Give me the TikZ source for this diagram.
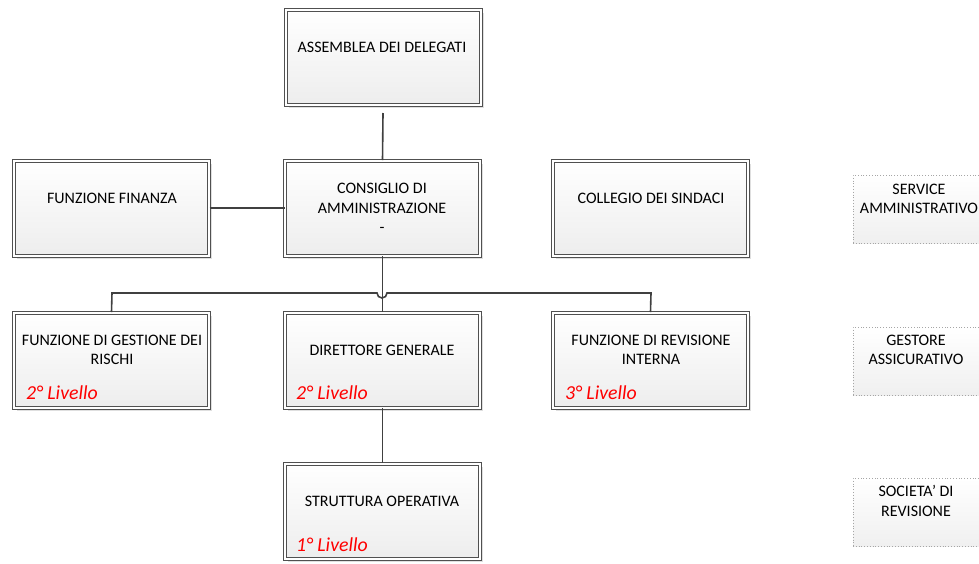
\documentclass[tikz,border=0pt]{standalone}
\usepackage{fontspec}
\setmainfont{Carlito}
\usetikzlibrary{shadows}
\definecolor{bord}{HTML}{505050}
\definecolor{lin}{HTML}{404040}
\definecolor{redlab}{HTML}{FF0000}
\tikzset{
  orgbox/.style={draw=bord, double=white, double distance=2pt, line width=1pt,
    top color=white, bottom color=gray!14, minimum width=195pt, minimum height=95pt,
    inner sep=0pt, drop shadow={shadow xshift=3pt, shadow yshift=-3pt, opacity=0.25, fill=gray}},
  sidebox/.style={draw=gray!70, dotted, line width=0.8pt, top color=white, bottom color=gray!12,
    minimum width=134pt, minimum height=68pt, inner sep=0pt},
  txt/.style={font=\fontsize{16}{19.5}\selectfont, align=center, text=black, inner sep=0pt},
  lvl/.style={font=\fontsize{19.8}{22}\selectfont\itshape, text=redlab, anchor=west, inner sep=0pt},
  conn/.style={draw=lin, line width=1.6pt}
}
\begin{document}
\begin{tikzpicture}[x=1pt,y=-1pt]
\useasboundingbox (0,0) rectangle (979,563);
\begin{scope}
\clip (0,0) rectangle (979,563);
% boxes
\node[orgbox] (ass) at (383,57) {};
\node[orgbox] (fin) at (111.5,208) {};
\node[orgbox] (cda) at (382.5,208) {};
\node[orgbox] (col) at (650.5,208) {};
\node[orgbox] (ris) at (111.5,360) {};
\node[orgbox] (dg) at (382.5,360) {};
\node[orgbox] (rev) at (650.5,360) {};
\node[orgbox] (so) at (382.5,511) {};
\node[sidebox] (serv) at (920,209) {};
\node[sidebox] (gest) at (920,361) {};
\node[sidebox] (soc) at (920,512) {};
\end{scope}
% texts
\node[txt] (assT) at (382,47) {ASSEMBLEA DEI DELEGATI};
\node[txt] (finT) at (112,198) {FUNZIONE FINANZA};
\node[txt] (cdaT) at (382,208) {CONSIGLIO DI\\AMMINISTRAZIONE\\-};
\node[txt] (colT) at (651,198) {COLLEGIO DEI SINDACI};
\node[txt] (risT) at (112,350) {FUNZIONE DI GESTIONE DEI\\RISCHI};
\node[txt] (dgT) at (382,350) {DIRETTORE GENERALE};
\node[txt] (revT) at (651,350) {FUNZIONE DI REVISIONE\\INTERNA};
\node[txt] (soT) at (382,501) {STRUTTURA OPERATIVA};
\node[txt] (servT) at (919,199) {SERVICE\\AMMINISTRATIVO};
\node[txt] (gestT) at (916,350) {GESTORE\\ASSICURATIVO};
\node[txt] (socT) at (916,501) {SOCIETA' DI\\REVISIONE};
% level labels
\node[lvl] (l1) at (26,393) {2° Livello};
\node[lvl] (l2) at (296,393) {2° Livello};
\node[lvl] (l3) at (565,393) {3° Livello};
\node[lvl] (l4) at (296,545) {1° Livello};
% connectors
\coordinate (hopL) at (377,293);
\coordinate (hopR) at (387,293);
\coordinate (busL) at (112,293);
\coordinate (busR) at (651,293);
\draw[conn] (ass.south) ++(0,8) -- (cda.north);
\draw[conn] (fin.east) -- (cda.west);
\draw[conn] (cda.south) -- (dg.north);
\draw[conn] (ris.north) -- (busL) -- (hopL) arc[start angle=180, end angle=0, radius=5] -- (busR) -- (rev.north);
\draw[conn] (dg.south) -- (so.north);
\end{tikzpicture}
\end{document}
